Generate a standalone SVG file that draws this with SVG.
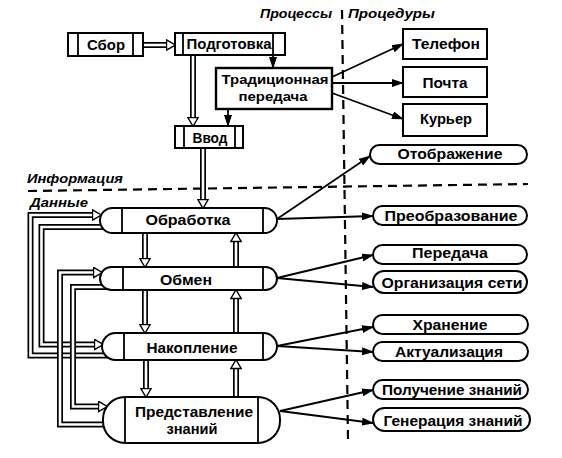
<svg xmlns="http://www.w3.org/2000/svg" width="562" height="458" viewBox="0 0 562 458">
<style>
.box{fill:#fff;stroke:#000;stroke-width:2}
.pill{fill:#fff;stroke:#000;stroke-width:2}
.dv{stroke:#000;stroke-width:1.8;fill:none}
.t{font-family:"Liberation Sans",Arial,sans-serif;font-size:14px;font-weight:bold;text-anchor:middle;fill:#000}
.lbl{font-family:"Liberation Sans",Arial,sans-serif;font-size:13px;font-weight:bold;font-style:italic;fill:#000}
.thin{stroke:#000;stroke-width:1.8;fill:none;marker-end:url(#arr)}
.dbo{stroke:#000;stroke-width:6;fill:none;stroke-linejoin:miter}
.dbi{stroke:#fff;stroke-width:2.6;fill:none;stroke-linejoin:miter;marker-end:url(#hol)}
.dash{stroke:#000;stroke-width:2.2;stroke-dasharray:9 6;fill:none}
</style>
<defs>
<marker id="arr" markerUnits="userSpaceOnUse" viewBox="0 0 12 8" markerWidth="12" markerHeight="8" refX="11" refY="4" orient="auto"><path d="M0,0 L12,4 L0,8 Z" fill="#000"/></marker>
<marker id="hol" markerUnits="userSpaceOnUse" viewBox="0 0 11 12" markerWidth="11" markerHeight="12" refX="1.5" refY="6" orient="auto"><path d="M1,0.8 L9.8,6 L1,11.2 Z" fill="#fff" stroke="#000" stroke-width="1.4"/></marker>
</defs>
<rect width="562" height="458" fill="#fff"/>

<g id="dividers">
<path class="dash" d="M342,10 L348,440"/>
<path class="dash" d="M28,191 L528,184"/>
<text class="lbl" x="260" y="18" textLength="72" lengthAdjust="spacingAndGlyphs">Процессы</text>
<text class="lbl" x="348" y="18" textLength="87" lengthAdjust="spacingAndGlyphs">Процедуры</text>
<text class="lbl" x="27" y="183" textLength="96" lengthAdjust="spacingAndGlyphs">Информация</text>
<text class="lbl" x="30" y="207" textLength="58" lengthAdjust="spacingAndGlyphs">Данные</text>
</g>

<g id="connectors">
<path class="thin" d="M273,55 V68"/>
<path class="thin" d="M228,109 V126"/>
<path class="thin" d="M332,77 L403,44"/>
<path class="thin" d="M332,83 L403,83"/>
<path class="thin" d="M332,93 L403,119"/>
<path class="thin" d="M277,219 L370,156"/>
<path class="thin" d="M277,219 L373,216"/>
<path class="thin" d="M277,278 L373,255"/>
<path class="thin" d="M277,278 L373,287"/>
<path class="thin" d="M277,346 L373,327"/>
<path class="thin" d="M277,346 L373,352"/>
<path class="thin" d="M280,411 L373,390"/>
<path class="thin" d="M280,411 L373,423"/>

<path class="dbo" d="M143,45 H167"/><path class="dbi" d="M143,45 H167"/>
<path class="dbo" d="M193,55 V118"/><path class="dbi" d="M193,55 V118"/>
<path class="dbo" d="M203,148 V200"/><path class="dbi" d="M203,148 V200"/>
<path class="dbo" d="M145,233 V259"/><path class="dbi" d="M145,233 V259"/>
<path class="dbo" d="M145,290 V325"/><path class="dbi" d="M145,290 V325"/>
<path class="dbo" d="M146,360 V389"/><path class="dbi" d="M146,360 V389"/>
<path class="dbo" d="M236,267 V241"/><path class="dbi" d="M236,267 V241"/>
<path class="dbo" d="M236,333 V298"/><path class="dbi" d="M236,333 V298"/>
<path class="dbo" d="M236,397 V368"/><path class="dbi" d="M236,397 V368"/>

<path class="dbo" d="M110,355.5 H30.5 V215 H93"/><path class="dbi" d="M110,355.5 H30.5 V215 H93"/>
<path class="dbo" d="M108,227 H41.5 V344.5 H95"/><path class="dbi" d="M108,227 H41.5 V344.5 H95"/>
<path class="dbo" d="M115,424.5 H60 V272.5 H94"/><path class="dbi" d="M115,424.5 H60 V272.5 H94"/>
<path class="dbo" d="M108,287 H73 V406.5 H99"/><path class="dbi" d="M108,287 H73 V406.5 H99"/>
</g>

<g id="n-sbor">
<rect class="box" x="68" y="33" width="75" height="23"/>
<path class="dv" d="M78,33 V56 M133,33 V56"/>
<text class="t" x="106" y="50" textLength="38" lengthAdjust="spacingAndGlyphs">Сбор</text>
</g>
<g id="n-podg">
<rect class="box" x="175" y="33" width="110" height="22"/>
<path class="dv" d="M183,33 V55 M273,33 V55"/>
<text class="t" x="229" y="49" textLength="85" lengthAdjust="spacingAndGlyphs">Подготовка</text>
</g>
<g id="n-trad">
<rect class="box" x="216" y="68" width="116" height="41" style="stroke-width:2.4"/>
<text class="t" x="275" y="84" style="font-size:13.5px" textLength="107" lengthAdjust="spacingAndGlyphs">Традиционная</text>
<text class="t" x="273" y="101" style="font-size:13.5px" textLength="69" lengthAdjust="spacingAndGlyphs">передача</text>
</g>
<g id="n-vvod">
<rect class="box" x="175" y="126" width="68" height="22"/>
<path class="dv" d="M184,126 V148 M235,126 V148"/>
<text class="t" x="210" y="143" textLength="35" lengthAdjust="spacingAndGlyphs">Ввод</text>
</g>

<g id="n-tel">
<rect class="box" x="403" y="29" width="84" height="30"/>
<text class="t" x="446" y="49" textLength="68" lengthAdjust="spacingAndGlyphs">Телефон</text>
</g>
<g id="n-pochta">
<rect class="box" x="403" y="67" width="84" height="30"/>
<text class="t" x="445" y="88" textLength="45" lengthAdjust="spacingAndGlyphs">Почта</text>
</g>
<g id="n-kurier">
<rect class="box" x="403" y="104" width="84" height="32"/>
<text class="t" x="446" y="124" textLength="52" lengthAdjust="spacingAndGlyphs">Курьер</text>
</g>

<g id="n-obrab">
<rect class="pill" x="100" y="208" width="177" height="25" rx="12.5"/>
<path class="dv" d="M122,208 V233 M263,208 V233"/>
<text class="t" x="188" y="225" textLength="85" lengthAdjust="spacingAndGlyphs">Обработка</text>
</g>
<g id="n-obmen">
<rect class="pill" x="100" y="267" width="177" height="23" rx="11.5"/>
<path class="dv" d="M123,267 V290 M263,267 V290"/>
<text class="t" x="186" y="285" textLength="52" lengthAdjust="spacingAndGlyphs">Обмен</text>
</g>
<g id="n-nakop">
<rect class="pill" x="102" y="333" width="175" height="27" rx="13.5"/>
<path class="dv" d="M124,333 V360 M263,333 V360"/>
<text class="t" x="192" y="353" textLength="91" lengthAdjust="spacingAndGlyphs">Накопление</text>
</g>
<g id="n-pred">
<rect class="pill" x="103" y="397" width="177" height="46" rx="22"/>
<path class="dv" d="M125,397 V443 M258,397 V443"/>
<text class="t" x="194" y="417" textLength="118" lengthAdjust="spacingAndGlyphs">Представление</text>
<text class="t" x="192" y="434" textLength="51" lengthAdjust="spacingAndGlyphs">знаний</text>
</g>

<g id="n-otobr">
<rect class="pill" x="370" y="145" width="157" height="19" rx="9.5"/>
<text class="t" x="450" y="159" textLength="105" lengthAdjust="spacingAndGlyphs">Отображение</text>
</g>
<g id="n-preobr">
<rect class="pill" x="373" y="206" width="154" height="19" rx="9.5"/>
<text class="t" x="451" y="221" textLength="133" lengthAdjust="spacingAndGlyphs">Преобразование</text>
</g>
<g id="n-pered">
<rect class="pill" x="373" y="245" width="154" height="19" rx="9.5"/>
<text class="t" x="450" y="258" textLength="76" lengthAdjust="spacingAndGlyphs">Передача</text>
</g>
<g id="n-org">
<rect class="pill" x="373" y="271" width="154" height="22" rx="11"/>
<text class="t" x="452" y="288" textLength="141" lengthAdjust="spacingAndGlyphs">Организация сети</text>
</g>
<g id="n-hran">
<rect class="pill" x="373" y="315" width="155" height="19" rx="9.5"/>
<text class="t" x="450" y="330" textLength="75" lengthAdjust="spacingAndGlyphs">Хранение</text>
</g>
<g id="n-aktual">
<rect class="pill" x="373" y="342" width="155" height="19" rx="9.5"/>
<text class="t" x="449" y="357" textLength="108" lengthAdjust="spacingAndGlyphs">Актуализация</text>
</g>
<g id="n-poluch">
<rect class="pill" x="373" y="380" width="155" height="19" rx="9.5"/>
<text class="t" x="452" y="395" textLength="140" lengthAdjust="spacingAndGlyphs">Получение знаний</text>
</g>
<g id="n-gener">
<rect class="pill" x="373" y="408" width="157" height="23" rx="11.5"/>
<text class="t" x="453" y="426" textLength="139" lengthAdjust="spacingAndGlyphs">Генерация знаний</text>
</g>
</svg>
